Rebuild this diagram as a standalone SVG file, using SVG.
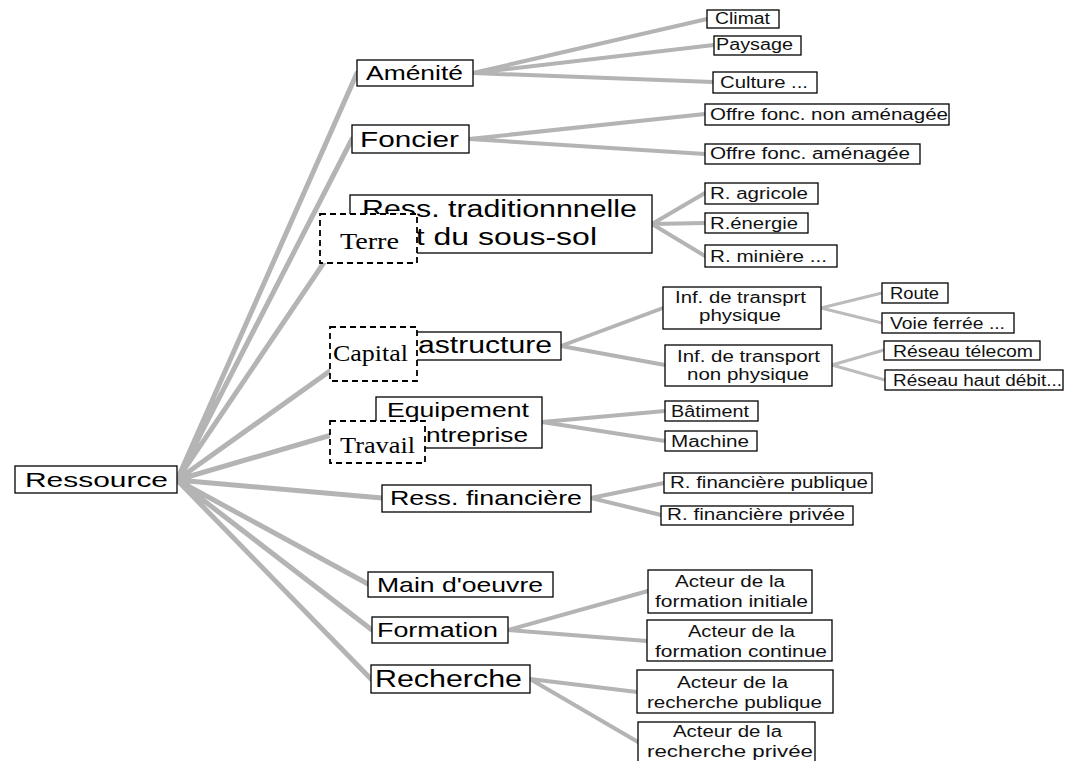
<svg xmlns="http://www.w3.org/2000/svg" width="1065" height="761" viewBox="0 0 1065 761">
<style>
.bg{fill:#ffffff}
.c1{stroke:#b4b4b4;stroke-width:5;fill:none;stroke-linecap:round}
.c2{stroke:#b4b4b4;stroke-width:4;fill:none;stroke-linecap:round}
.c3{stroke:#bcbcbc;stroke-width:3;fill:none;stroke-linecap:round}
.box{fill:#ffffff;stroke:#000000;stroke-width:1.3}
.dash{fill:#ffffff;stroke:#000000;stroke-width:1.8;stroke-dasharray:6,4}
.t{font-family:"Liberation Sans",Arial,sans-serif;fill:#000000}
.s{font-family:"Liberation Serif","Times New Roman",serif;fill:#000000;font-size:24px}
.lf{font-size:16px;fill:#111111}
</style>
<rect class="bg" x="0" y="0" width="1065" height="761"/>
<g id="connectors">
<path class="c1" d="M177,480L357,73M177,480L352,139M177,480L350,224M177,480L365,346M177,480L376,422M177,480L382,498M177,480L368,584M177,480L372,630M177,480L371,679"/>
<path class="c2" d="M473,73L707,19M473,73L714,45M473,73L713,82M469,139L705,114M469,139L705,154M652,224L705,193M652,224L705,223M652,224L705,256M561,346L663,308M561,346L665,365M542,422L665,411M542,422L665,441M591,498L664,483M591,498L661,515M508,630L648,591M508,630L647,641M530,679L637,692M530,679L638,742"/>
<path class="c3" d="M821,308L882,293M821,308L882,323M832,365L884,350M832,365L885,380"/>
</g>
<g id="ressource"><rect class="box" x="15" y="466" width="162" height="27"/><text class="t" x="25" y="487" font-size="21" textLength="143" lengthAdjust="spacingAndGlyphs">Ressource</text></g>
<g id="amenite"><rect class="box" x="357" y="60" width="116" height="26"/><text class="t" x="366" y="80" font-size="21" textLength="97" lengthAdjust="spacingAndGlyphs">Aménité</text></g>
<g id="foncier"><rect class="box" x="352" y="125" width="117" height="28"/><text class="t" x="360" y="147" font-size="22" textLength="99" lengthAdjust="spacingAndGlyphs">Foncier</text></g>
<g id="resstrad"><rect class="box" x="350" y="195" width="302" height="58"/><text class="t" x="362" y="217" font-size="23" textLength="275" lengthAdjust="spacingAndGlyphs">Ress. traditionnnelle</text><text class="t" x="398" y="245" font-size="23" textLength="199" lengthAdjust="spacingAndGlyphs">et du sous-sol</text></g>
<g id="infra"><rect class="box" x="365" y="332" width="196" height="28"/><text class="t" x="418" y="353" font-size="23" textLength="134" lengthAdjust="spacingAndGlyphs">astructure</text></g>
<g id="equip"><rect class="box" x="376" y="397" width="166" height="51"/><text class="t" x="387" y="417" font-size="21" textLength="142" lengthAdjust="spacingAndGlyphs">Equipement</text><text class="t" x="426" y="442" font-size="21" textLength="102" lengthAdjust="spacingAndGlyphs">ntreprise</text></g>
<g id="ressfin"><rect class="box" x="382" y="485" width="209" height="27"/><text class="t" x="390" y="505" font-size="20" textLength="192" lengthAdjust="spacingAndGlyphs">Ress. financière</text></g>
<g id="main"><rect class="box" x="368" y="572" width="185" height="25"/><text class="t" x="377" y="592" font-size="21" textLength="166" lengthAdjust="spacingAndGlyphs">Main d'oeuvre</text></g>
<g id="formation"><rect class="box" x="372" y="617" width="136" height="26"/><text class="t" x="377" y="637" font-size="20" textLength="121" lengthAdjust="spacingAndGlyphs">Formation</text></g>
<g id="recherche"><rect class="box" x="371" y="665" width="159" height="28"/><text class="t" x="375" y="687" font-size="23" textLength="147" lengthAdjust="spacingAndGlyphs">Recherche</text></g>
<g id="climat"><rect class="box" x="707" y="10" width="72" height="18"/><text class="t lf" x="715" y="24" textLength="55" lengthAdjust="spacingAndGlyphs">Climat</text></g>
<g id="paysage"><rect class="box" x="714" y="36" width="87" height="19"/><text class="t lf" x="716" y="50" textLength="77" lengthAdjust="spacingAndGlyphs">Paysage</text></g>
<g id="culture"><rect class="box" x="713" y="72" width="104" height="21"/><text class="t lf" x="720" y="88" textLength="88" lengthAdjust="spacingAndGlyphs">Culture ...</text></g>
<g id="offre1"><rect class="box" x="705" y="104" width="244" height="21"/><text class="t lf" x="710" y="120" textLength="238" lengthAdjust="spacingAndGlyphs">Offre fonc. non aménagée</text></g>
<g id="offre2"><rect class="box" x="705" y="144" width="215" height="20"/><text class="t lf" x="710" y="159" textLength="200" lengthAdjust="spacingAndGlyphs">Offre fonc. aménagée</text></g>
<g id="ragricole"><rect class="box" x="705" y="183" width="113" height="21"/><text class="t lf" x="710" y="199" textLength="98" lengthAdjust="spacingAndGlyphs">R. agricole</text></g>
<g id="renergie"><rect class="box" x="705" y="213" width="103" height="20"/><text class="t lf" x="710" y="229" textLength="88" lengthAdjust="spacingAndGlyphs">R.énergie</text></g>
<g id="rminiere"><rect class="box" x="705" y="245" width="132" height="22"/><text class="t lf" x="710" y="262" textLength="117" lengthAdjust="spacingAndGlyphs">R. minière ...</text></g>
<g id="infphys"><rect class="box" x="663" y="287" width="158" height="42"/><text class="t lf" x="675" y="303" textLength="131" lengthAdjust="spacingAndGlyphs">Inf. de transprt</text><text class="t lf" x="699" y="321" textLength="82" lengthAdjust="spacingAndGlyphs">physique</text></g>
<g id="infnonphys"><rect class="box" x="665" y="345" width="167" height="41"/><text class="t lf" x="677" y="362" textLength="143" lengthAdjust="spacingAndGlyphs">Inf. de transport</text><text class="t lf" x="687" y="380" textLength="122" lengthAdjust="spacingAndGlyphs">non physique</text></g>
<g id="route"><rect class="box" x="882" y="283" width="66" height="20"/><text class="t lf" x="890" y="299" textLength="49" lengthAdjust="spacingAndGlyphs">Route</text></g>
<g id="voie"><rect class="box" x="882" y="313" width="132" height="20"/><text class="t lf" x="890" y="329" textLength="115" lengthAdjust="spacingAndGlyphs">Voie ferrée ...</text></g>
<g id="telecom"><rect class="box" x="884" y="341" width="156" height="19"/><text class="t lf" x="893" y="357" textLength="140" lengthAdjust="spacingAndGlyphs">Réseau télecom</text></g>
<g id="hautdebit"><rect class="box" x="885" y="370" width="178" height="20"/><text class="t lf" x="893" y="386" textLength="169" lengthAdjust="spacingAndGlyphs">Réseau haut débit...</text></g>
<g id="batiment"><rect class="box" x="665" y="401" width="93" height="20"/><text class="t lf" x="671" y="417" textLength="78" lengthAdjust="spacingAndGlyphs">Bâtiment</text></g>
<g id="machine"><rect class="box" x="665" y="431" width="92" height="20"/><text class="t lf" x="671" y="447" textLength="78" lengthAdjust="spacingAndGlyphs">Machine</text></g>
<g id="rfinpub"><rect class="box" x="664" y="473" width="208" height="20"/><text class="t lf" x="670" y="488" textLength="198" lengthAdjust="spacingAndGlyphs">R. financière publique</text></g>
<g id="rfinpriv"><rect class="box" x="661" y="506" width="192" height="19"/><text class="t lf" x="667" y="520" textLength="178" lengthAdjust="spacingAndGlyphs">R. financière privée</text></g>
<g id="forminit"><rect class="box" x="648" y="570" width="164" height="43"/><text class="t lf" x="675" y="587" textLength="110" lengthAdjust="spacingAndGlyphs">Acteur de la</text><text class="t lf" x="655" y="607" textLength="153" lengthAdjust="spacingAndGlyphs">formation initiale</text></g>
<g id="formcont"><rect class="box" x="647" y="620" width="185" height="41"/><text class="t lf" x="688" y="637" textLength="107" lengthAdjust="spacingAndGlyphs">Acteur de la</text><text class="t lf" x="655" y="657" textLength="172" lengthAdjust="spacingAndGlyphs">formation continue</text></g>
<g id="rechpub"><rect class="box" x="637" y="670" width="196" height="43"/><text class="t lf" x="677" y="688" textLength="111" lengthAdjust="spacingAndGlyphs">Acteur de la</text><text class="t lf" x="647" y="708" textLength="175" lengthAdjust="spacingAndGlyphs">recherche publique</text></g>
<g id="rechpriv"><rect class="box" x="638" y="722" width="177" height="45"/><text class="t lf" x="673" y="737" textLength="109" lengthAdjust="spacingAndGlyphs">Acteur de la</text><text class="t lf" x="647" y="757" textLength="166" lengthAdjust="spacingAndGlyphs">recherche privée</text></g>
<g id="terre"><rect class="dash" x="320" y="214" width="97" height="49"/><text class="s" x="340" y="249" textLength="59" lengthAdjust="spacingAndGlyphs">Terre</text></g>
<g id="capital"><rect class="dash" x="330" y="327" width="87" height="54"/><text class="s" x="333" y="361" textLength="75" lengthAdjust="spacingAndGlyphs">Capital</text></g>
<g id="travail"><rect class="dash" x="330" y="421" width="95" height="42"/><text class="s" x="340" y="453" textLength="75" lengthAdjust="spacingAndGlyphs">Travail</text></g>
</svg>
